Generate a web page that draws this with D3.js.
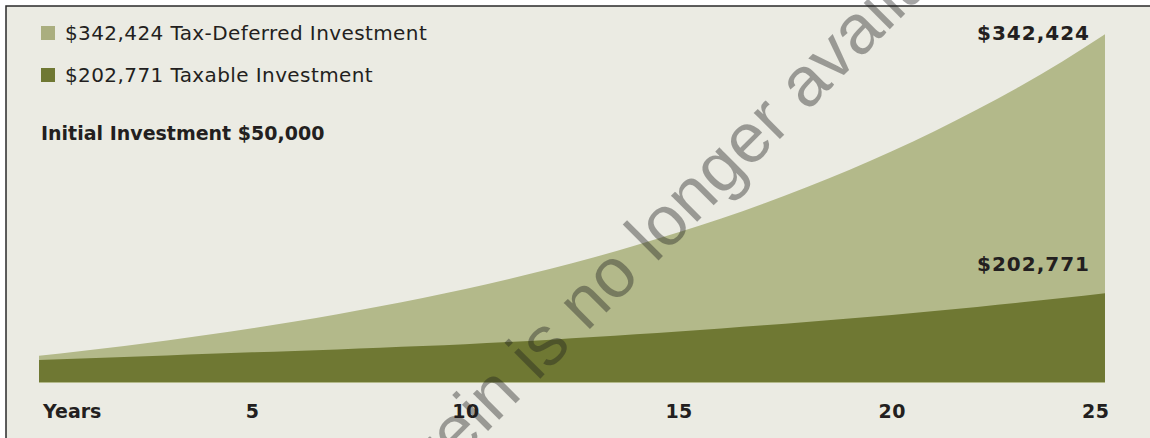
<!DOCTYPE html>
<html>
<head>
<meta charset="utf-8">
<script src="https://cdn.jsdelivr.net/npm/d3@7/dist/d3.min.js"></script>
<style>
  html, body { margin: 0; padding: 0; background: #fff; }
  svg { display: block; }
  .lbl { font-family: "DejaVu Sans", sans-serif; fill: #231f20; }
</style>
</head>
<body>
<svg class="canvas" width="1150" height="438"></svg>
<script>
// years on the x axis
var years = [0, 1, 2, 3, 4, 5, 6, 7, 8, 9, 10, 11, 12, 13, 14, 15, 16, 17, 18, 19, 20, 21, 22, 23, 24, 25];
var tick_years = [5, 10, 15, 20, 25];

// values (one shared linear scale, top = $342,424)
var tax_deferred = [25900, 30600, 35500, 40900, 46700, 52900, 59600, 66800, 74500, 82800,
	91700, 101300, 111600, 122600, 134600, 147400, 161100, 175900, 191800, 208900,
	227300, 247000, 268300, 291100, 315600, 342424];
var taxable = [21670, 23140, 24620, 26200, 27770, 29250, 30630, 32100, 33680, 35350,
	37220, 39290, 41660, 44220, 46980, 49830, 52790, 55890, 59180, 62530,
	66080, 69920, 73960, 78190, 82620, 87350];

var legend_labels = ['$342,424 Tax-Deferred Investment', '$202,771 Taxable Investment'];
var end_labels = ['$342,424', '$202,771'];
var initial_label = 'Initial Investment $50,000';

var light = '#b3b98a', dark = '#6f7833', bg = '#ebebe3';

var svg = d3.select('.canvas');

// PANEL + FRAME
svg.append('rect')
	.attr('x', 6).attr('y', 6)
	.attr('width', 1150).attr('height', 438)
	.attr('fill', bg)
	.attr('stroke', '#2a2a2a')
	.attr('stroke-width', 1.5);

var x = d3.scaleLinear().domain([0, 25]).range([39, 1105]);
var y = d3.scaleLinear().domain([0, 342424]).range([382, 34.3]);

function area(values) {
	return d3.area()
		.x(function(d, i) { return x(years[i]); })
		.y0(y(0))
		.y1(function(d) { return y(d); })
		.curve(d3.curveMonotoneX)(values);
}

svg.append('path').attr('d', area(tax_deferred)).attr('fill', light);
svg.append('path').attr('d', area(taxable)).attr('fill', dark);

// thin light edge under the areas
svg.append('line')
	.attr('x1', x(0)).attr('x2', x(25))
	.attr('y1', y(0) + 0.5).attr('y2', y(0) + 0.5)
	.attr('stroke', light).attr('stroke-width', 1);

// LEGEND
var legend = svg.append('g');
legend.selectAll('rect')
	.data(legend_labels)
	.enter().append('rect')
	.attr('x', 41)
	.attr('y', function(d, i) { return 26 + i * 42; })
	.attr('width', 14).attr('height', 14)
	.attr('fill', function(d, i) { return i == 0 ? '#aaae7f' : dark; });
legend.selectAll('text')
	.data(legend_labels)
	.enter().append('text')
	.attr('class', 'lbl')
	.attr('x', 65)
	.attr('y', function(d, i) { return 40 + i * 42; })
	.style('font-size', '20px')
	.style('letter-spacing', '0.4px')
	.text(function(d) { return d; });

svg.append('text')
	.attr('class', 'lbl')
	.attr('x', 41).attr('y', 140)
	.style('font-size', '19px').style('font-weight', 'bold')
	.text(initial_label);

// END VALUE LABELS
svg.selectAll('.end-label')
	.data([tax_deferred[25], taxable[25]])
	.enter().append('text')
	.attr('class', 'lbl end-label')
	.attr('x', 1090)
	.attr('y', function(d, i) { return i == 0 ? 40 : 271; })
	.attr('text-anchor', 'end')
	.style('font-size', '20px').style('font-weight', 'bold')
	.style('letter-spacing', '1px')
	.text(function(d, i) { return end_labels[i]; });

// X AXIS
var axis = svg.append('g')
	.attr('transform', 'translate(0,' + 418 + ')')
	.call(d3.axisBottom(x).tickValues(tick_years).tickSize(0).tickPadding(0));
axis.select('.domain').remove();
axis.selectAll('text')
	.attr('class', 'lbl')
	.attr('y', 0).attr('dy', 0)
	.style('font-size', '19px').style('font-weight', 'bold')
	.style('letter-spacing', '0.5px')
	.attr('text-anchor', function(d) { return d == 25 ? 'end' : 'middle'; })
	.attr('x', function(d) { return d == 25 ? 4 : 0; });

svg.append('text')
	.attr('class', 'lbl')
	.attr('x', 43).attr('y', 418)
	.style('font-size', '19px').style('font-weight', 'bold')
	.text('Years');

// WATERMARK
var wm = svg.append('g')
	.attr('transform', 'translate(537,382) rotate(-45)');
var wm_text = wm.append('text')
	.style('font-family', '"Liberation Sans", Arial, sans-serif')
	.style('font-size', '70px')
	.attr('fill', '#1e1e1e')
	.attr('fill-opacity', 0.4)
	.text('The information contained herein is no longer available');
var idx = wm_text.text().indexOf('is no');
wm_text.attr('x', -wm_text.node().getSubStringLength(0, idx));
</script>
</body>
</html>
